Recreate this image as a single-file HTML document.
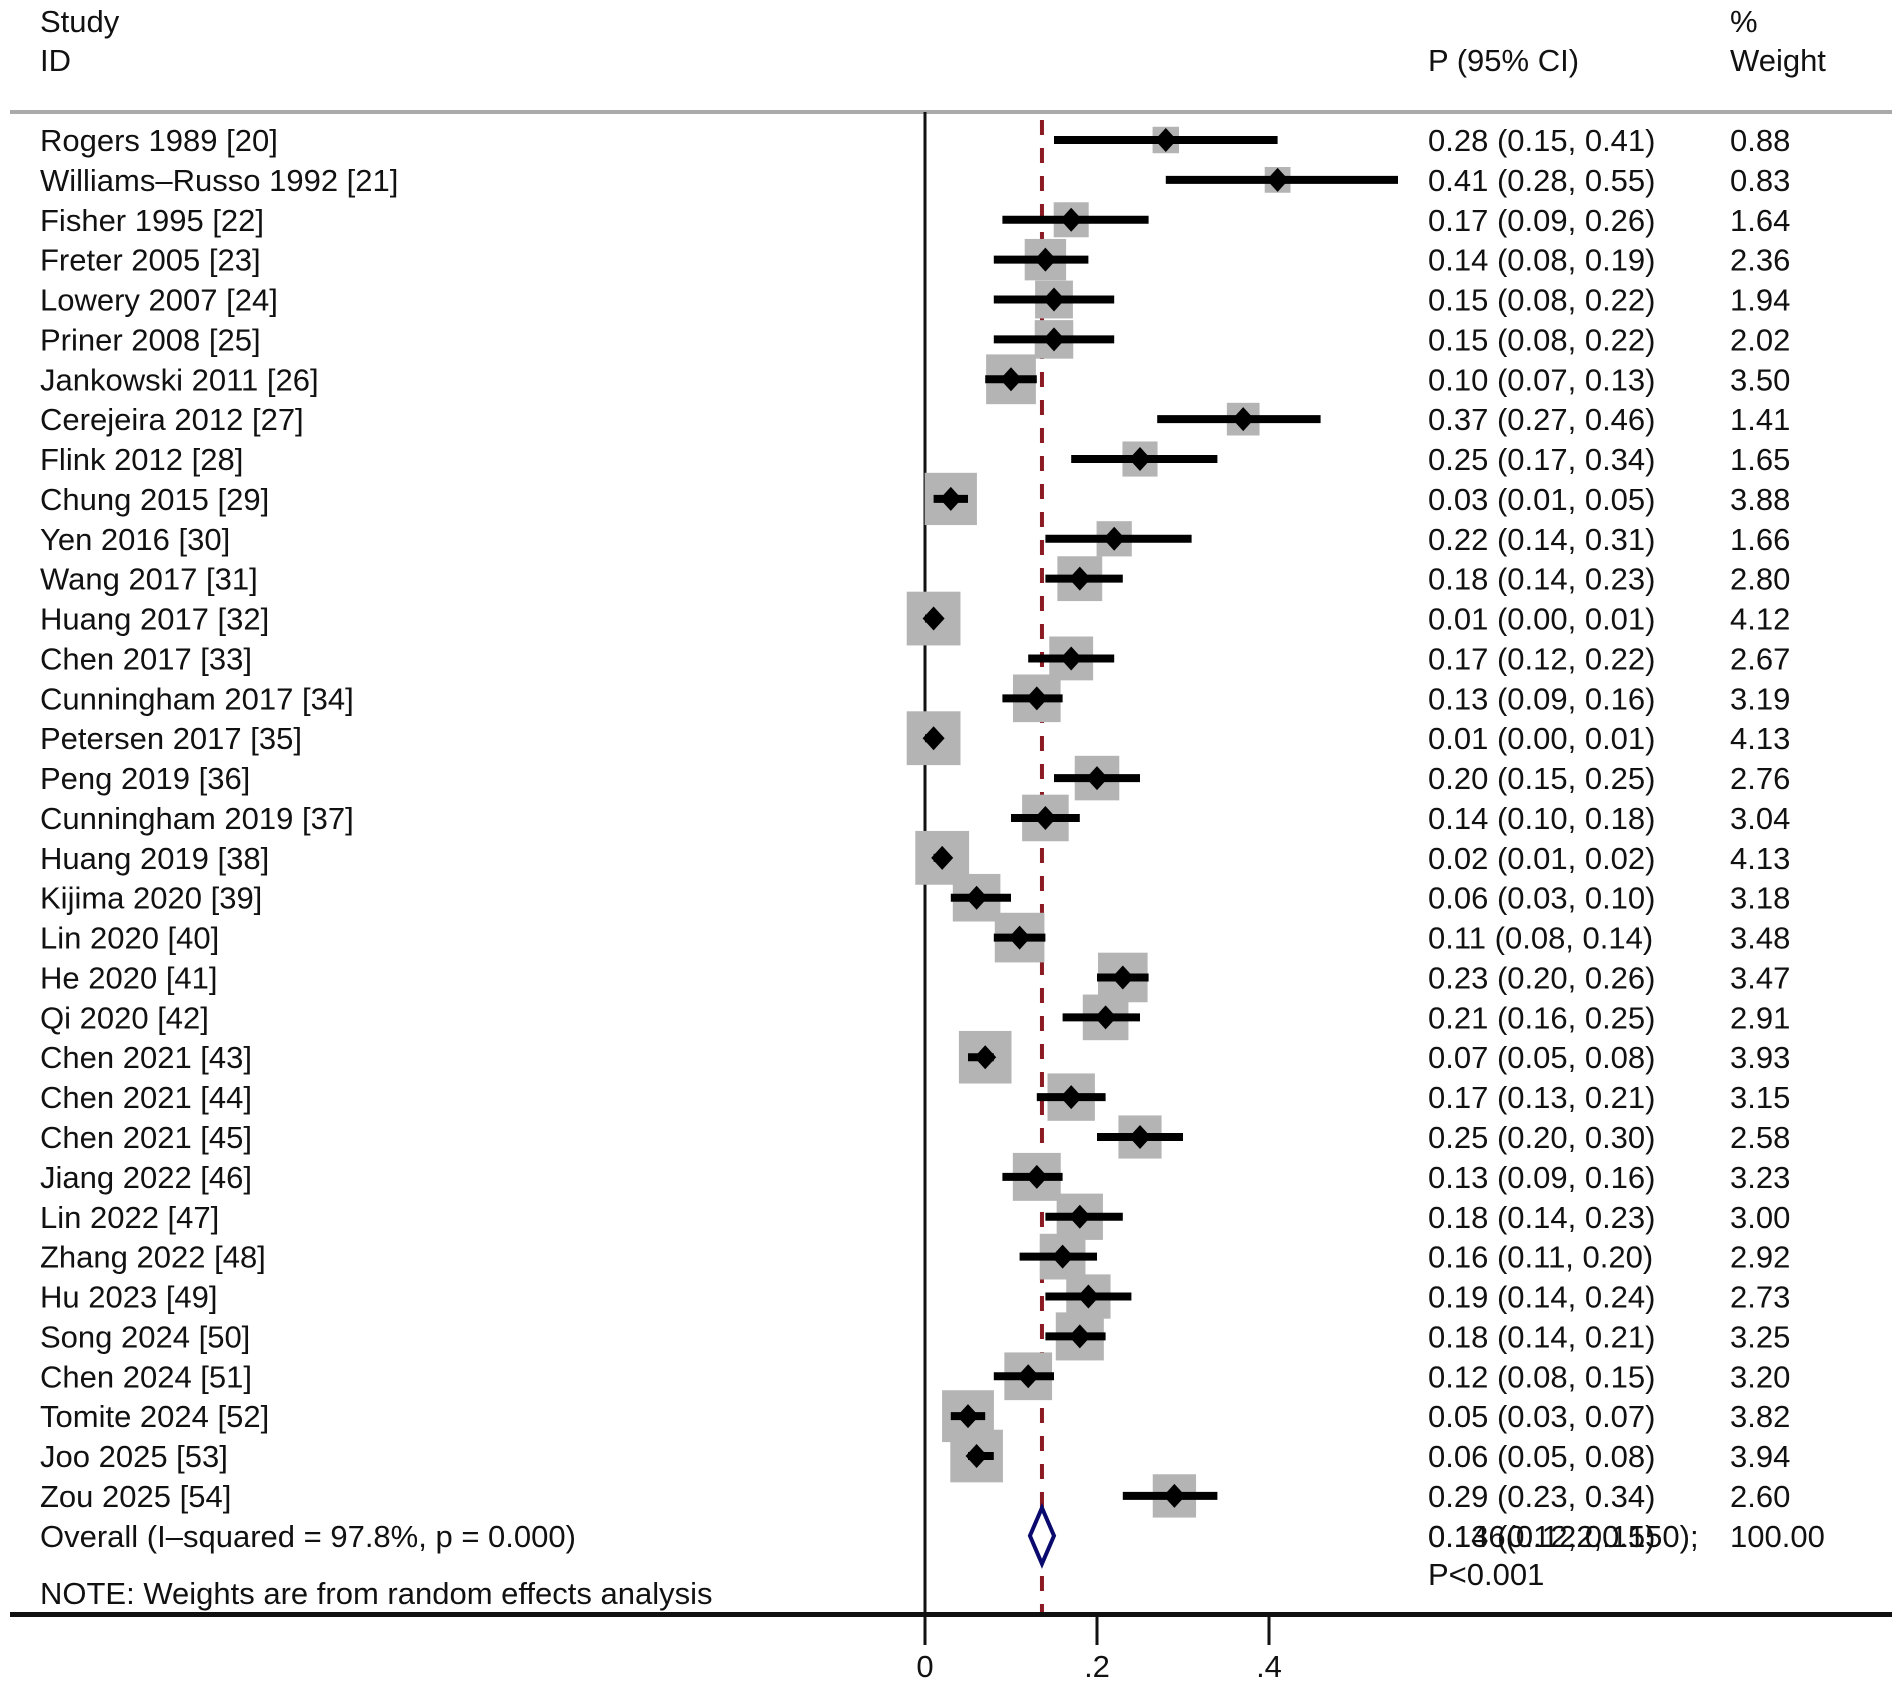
<!DOCTYPE html>
<html><head><meta charset="utf-8"><style>
html,body{margin:0;padding:0;background:#fff;}
svg{display:block;}
text{font-family:"Liberation Sans",sans-serif;font-size:31px;fill:#111;}
</style></head><body>
<svg id="plot" width="1902" height="1685" viewBox="0 0 1902 1685" xmlns="http://www.w3.org/2000/svg">
<text x="40" y="32">Study</text>
<text x="40" y="71">ID</text>
<text x="1428" y="71">P (95% CI)</text>
<text x="1730" y="32">%</text>
<text x="1730" y="71">Weight</text>
<rect x="10" y="110" width="1882" height="4" fill="#aaa"/>
<rect x="10" y="1612" width="1882" height="5" fill="#111"/>
<g id="marks"></g>
<text x="40" y="1604">NOTE: Weights are from random effects analysis</text>
</svg>
<script>
const studies=["Rogers 1989 [20]","Williams\u2013Russo 1992 [21]","Fisher 1995 [22]","Freter 2005 [23]","Lowery 2007 [24]","Priner 2008 [25]","Jankowski 2011 [26]","Cerejeira 2012 [27]","Flink 2012 [28]","Chung 2015 [29]","Yen 2016 [30]","Wang 2017 [31]","Huang 2017 [32]","Chen 2017 [33]","Cunningham 2017 [34]","Petersen 2017 [35]","Peng 2019 [36]","Cunningham 2019 [37]","Huang 2019 [38]","Kijima 2020 [39]","Lin 2020 [40]","He 2020 [41]","Qi 2020 [42]","Chen 2021 [43]","Chen 2021 [44]","Chen 2021 [45]","Jiang 2022 [46]","Lin 2022 [47]","Zhang 2022 [48]","Hu 2023 [49]","Song 2024 [50]","Chen 2024 [51]","Tomite 2024 [52]","Joo 2025 [53]","Zou 2025 [54]"];
const est=[0.28,0.41,0.17,0.14,0.15,0.15,0.10,0.37,0.25,0.03,0.22,0.18,0.01,0.17,0.13,0.01,0.20,0.14,0.02,0.06,0.11,0.23,0.21,0.07,0.17,0.25,0.13,0.18,0.16,0.19,0.18,0.12,0.05,0.06,0.29];
const lo=[0.15,0.28,0.09,0.08,0.08,0.08,0.07,0.27,0.17,0.01,0.14,0.14,0.00,0.12,0.09,0.00,0.15,0.10,0.01,0.03,0.08,0.20,0.16,0.05,0.13,0.20,0.09,0.14,0.11,0.14,0.14,0.08,0.03,0.05,0.23];
const hi=[0.41,0.55,0.26,0.19,0.22,0.22,0.13,0.46,0.34,0.05,0.31,0.23,0.01,0.22,0.16,0.01,0.25,0.18,0.02,0.10,0.14,0.26,0.25,0.08,0.21,0.30,0.16,0.23,0.20,0.24,0.21,0.15,0.07,0.08,0.34];
const weights=[0.88,0.83,1.64,2.36,1.94,2.02,3.50,1.41,1.65,3.88,1.66,2.80,4.12,2.67,3.19,4.13,2.76,3.04,4.13,3.18,3.48,3.47,2.91,3.93,3.15,2.58,3.23,3.00,2.92,2.73,3.25,3.20,3.82,3.94,2.60];
const overall=[0.136,0.122,0.150];
const xTicks=[0,0.2,0.4];
const xTickLabels=["0",".2",".4"];

const NS="http://www.w3.org/2000/svg";
const g=document.getElementById('marks');
const X=v=>925+v*860;
const Y=i=>140+i*39.88;
function mk(tag,attrs){const e=document.createElementNS(NS,tag);for(const k in attrs)e.setAttribute(k,attrs[k]);g.appendChild(e);return e;}
let e=mk('line',{x1:X(0),y1:112,x2:X(0),y2:1645,stroke:'#111','stroke-width':3});


xTicks.forEach((t,i)=>{
  let tk=mk('line',{x1:X(t),y1:1614,x2:X(t),y2:1645,stroke:'#111','stroke-width':3});
  
  
  let tl=mk('text',{x:X(t),y:1677,'text-anchor':'middle'});tl.textContent=xTickLabels[i];
  
  
});
e=mk('line',{x1:X(overall[0]),y1:120,x2:X(overall[0]),y2:1612,stroke:'#8b1a22','stroke-width':4,'stroke-dasharray':'15 13'});


studies.forEach((s,i)=>{
  const y=Y(i);
  let t=mk('text',{x:40,y:y+11});t.textContent=s;
  
  
  const side=25*Math.sqrt(weights[i])+3;
  let b=mk('rect',{x:X(est[i])-side/2,y:y-side/2,width:side,height:side,fill:'#b4b4b4'});
  
  
  let l=mk('line',{x1:X(lo[i]),y1:y,x2:X(hi[i]),y2:y,stroke:'#000','stroke-width':8});
  
  
  const cx=X(est[i]);
  let d=mk('polygon',{points:`${cx-11},${y} ${cx},${y-12} ${cx+11},${y} ${cx},${y+12}`,fill:'#000'});
  
  
  let c=mk('text',{x:1428,y:y+11});c.textContent=`${est[i].toFixed(2)} (${lo[i].toFixed(2)}, ${hi[i].toFixed(2)})`;
  
  
  let w=mk('text',{x:1730,y:y+11});w.textContent=weights[i].toFixed(2);
  
  
});
const oy=Y(studies.length);
let ol=mk('text',{x:40,y:oy+11});ol.textContent='Overall  (I\u2013squared = 97.8%, p = 0.000)';


let od=mk('polygon',{points:`${X(overall[1])},${oy} ${X(overall[0])},${oy-28} ${X(overall[2])},${oy} ${X(overall[0])},${oy+28}`,fill:'#fff',stroke:'#0a0a6e','stroke-width':4});


let o1=mk('text',{x:1428,y:oy+11});o1.textContent=`${overall[0].toFixed(2)} (${overall[1].toFixed(2)}, ${overall[2].toFixed(2)})`;


let o2=mk('text',{x:1428,y:oy+11});o2.textContent=`${overall[0].toFixed(3)}(${overall[1].toFixed(3)},${overall[2].toFixed(3)});`;


let o3=mk('text',{x:1428,y:oy+49});o3.textContent='P<0.001';


let o4=mk('text',{x:1730,y:oy+11});o4.textContent='100.00';


</script>
</body></html>
